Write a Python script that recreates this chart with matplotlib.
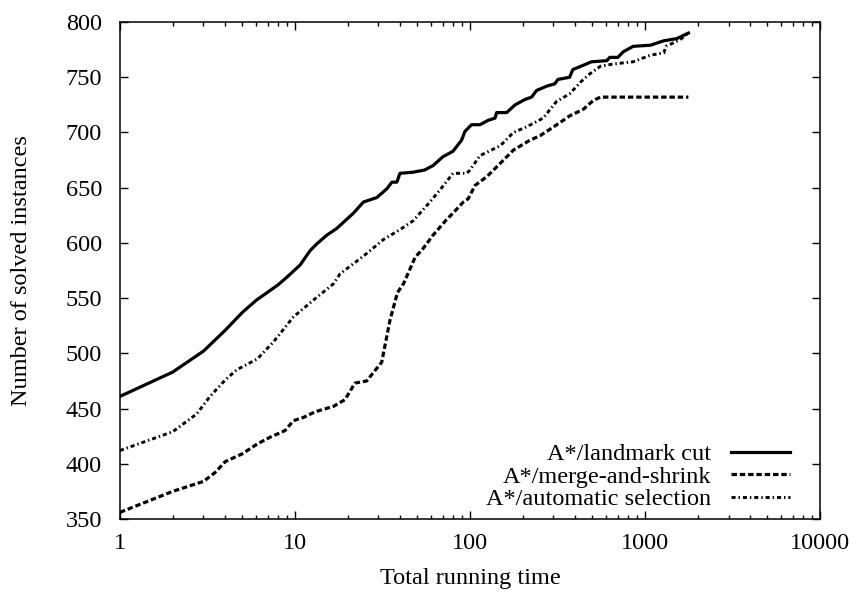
import matplotlib
matplotlib.use("Agg")
from matplotlib import pyplot as plt

# solved-instance curves, (time, count) pairs
lmcut_t = [1, 2, 3, 4, 5, 6, 8, 9, 10.7, 12.2, 13.3, 15.2, 17.3, 21.6, 24.6,
           29.3, 33.5, 35.8, 38.2, 39.8, 47.3, 55, 61.5, 70, 80, 89.5, 93.6,
           102, 114, 127, 139, 142, 162, 181, 207, 225, 240, 275, 305, 318,
           371, 387, 431, 495, 605, 629, 700, 750, 856, 1074, 1170, 1280,
           1520, 1770]
lmcut_n = [461, 483, 502, 521, 537, 548, 562, 569, 580, 593, 599, 607, 613,
           627, 637, 641, 649, 655, 655, 663, 664, 666, 670, 678, 683, 693,
           701, 707, 707, 711, 713, 718, 718, 725, 730, 732, 738, 742, 744,
           748, 750, 757, 760, 764, 765, 768, 768, 773, 778, 779, 781, 783,
           785, 790]

ms_t = [1, 2, 3, 3.49, 4, 5, 6.1, 7.2, 8.76, 9.8, 11.2, 13, 16.6, 19.3, 22,
        25.7, 31.3, 34.9, 38.5, 41.7, 48.6, 54, 61.5, 73.4, 80, 91.6, 97.7,
        106.8, 124.8, 148.8, 177, 220, 251, 287, 327, 371, 444, 507, 557,
        1770]
ms_n = [356, 375, 384, 392, 402, 409, 418, 424, 430, 439, 442, 447, 452, 458,
        473, 475, 492, 530, 555, 563, 587, 595, 607, 621, 627, 637, 640,
        652, 660, 672, 684, 693, 697, 703, 709, 715, 721, 729, 732, 732]

auto_t = [1, 2, 2.74, 3.27, 4, 4.64, 6.1, 7.5, 9.8, 12.7, 16.6, 18.1, 24.6,
          32, 39.8, 47.3, 59, 67.4, 80, 95.8, 100, 114, 149, 177, 210, 262,
          312, 371, 431, 483, 557, 660, 856, 1074, 1280, 1320, 1585, 1770]
auto_n = [412, 429, 445, 461, 476, 485, 495, 510, 533, 548, 563, 572, 588,
          603, 612, 620, 637, 648, 663, 663, 666, 679, 688, 700, 705, 713,
          728, 735, 746, 753, 760, 762, 764, 770, 772, 778, 784, 790]

labels = ["A*/landmark cut", "A*/merge-and-shrink", "A*/automatic selection"]
xticks = [1, 10, 100, 1000, 10000]
xticklabels = ["1", "10", "100", "1000", "10000"]
yticks = list(range(350, 801, 50))

plt.rcParams["font.family"] = ["Liberation Serif", "DejaVu Serif"]
plt.rcParams["font.size"] = 17.5

fig = plt.figure(figsize=(8.6, 5.97), dpi=100)
ax = fig.add_axes([0.1395, 0.1307, 0.814, 0.8324])

ax.plot(lmcut_t, lmcut_n, color="k", lw=2.3, label=labels[0])
ax.plot(ms_t, ms_n, color="k", lw=2.3, dashes=(1.7, 0.9), label=labels[1])
ax.plot(auto_t, auto_n, color="k", lw=2.1, dashes=(1.4, 1.0, 0.5, 1.0),
        label=labels[2])

ax.set_xscale("log")
ax.set_xlim(1, 10000)
ax.set_ylim(350, 800)
ax.set_xticks(xticks)
ax.set_xticklabels(xticklabels)
ax.set_yticks(yticks)

ax.tick_params(which="both", direction="in", top=True, right=True,
               width=1.0)
ax.tick_params(which="major", length=6)
ax.tick_params(which="minor", length=3)
ax.tick_params(axis="x", which="major", pad=10)
ax.tick_params(axis="y", which="major", pad=13)
for sp in ax.spines.values():
    sp.set_linewidth(1.1)

ax.set_xlabel("Total running time", labelpad=10)
ax.set_ylabel("Number of solved instances", labelpad=24)

# gnuplot-style key: right-justified labels with the line sample after them
leg = ax.legend(loc="lower right", bbox_to_anchor=(0.985, -0.022),
                frameon=False, markerfirst=False, handlelength=2.45,
                handletextpad=0.8, labelspacing=0.02, borderpad=0.3)

fig.savefig("out.png", dpi=100)
